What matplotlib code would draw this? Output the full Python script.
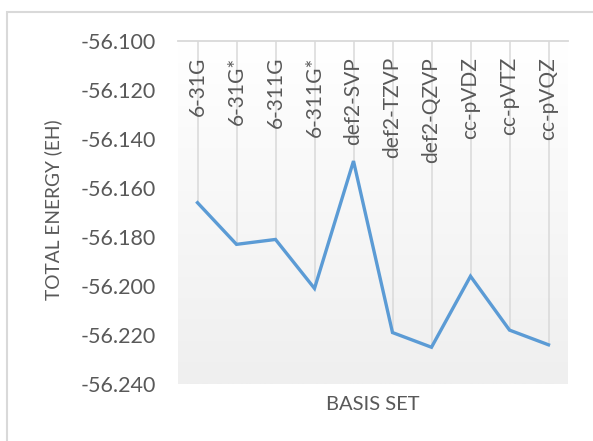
import numpy as np
import matplotlib
matplotlib.use("Agg")
import matplotlib.pyplot as plt
from matplotlib.patches import Rectangle

plt.rcParams['font.family'] = ['Lato', 'DejaVu Sans']

basis_sets = ["6-31G", "6-31G*", "6-311G", "6-311G*", "def2-SVP",
              "def2-TZVP", "def2-QZVP", "cc-pVDZ", "cc-pVTZ", "cc-pVQZ"]
energies = [-56.166, -56.183, -56.181, -56.201, -56.149,
            -56.219, -56.225, -56.196, -56.218, -56.224]
y_ticks = [-56.100, -56.120, -56.140, -56.160, -56.180, -56.200, -56.220, -56.240]

W, H = 593, 441
text_color = "#595959"
grid_color = "#d9d9d9"

fig = plt.figure(figsize=(W / 100, H / 100), dpi=100)
ax = fig.add_axes([178 / W, (H - 384) / H, 390 / W, 343 / H])

x = np.arange(len(basis_sets))
ymin, ymax = -56.240, -56.100
ax.set_xlim(-0.5, len(basis_sets) - 0.5)
ax.set_ylim(ymin, ymax)

# soft vertical gradient in the plot area
grad = np.linspace(0, 1, 256).reshape(-1, 1)
top = np.array([1.0, 1.0, 1.0])
bot = np.array([0xef, 0xef, 0xef]) / 255
img = top + (bot - top) * grad[..., None]
ax.imshow(img, extent=[-0.5, len(basis_sets) - 0.5, ymin, ymax],
          aspect="auto", origin="upper", zorder=0)

# category axis sits at the top; drop lines run down to each point
ax.axhline(ymax, color=grid_color, lw=1.3, zorder=1, clip_on=False)
ax.vlines(x, energies, ymax, color=grid_color, lw=1.1, zorder=1)

ax.plot(x, energies, color="#5b9bd5", lw=2.4, solid_joinstyle="miter", zorder=3)

for xi, name in zip(x, basis_sets):
    ax.annotate(name, (xi, ymax), xytext=(0, -16), textcoords="offset pixels",
                rotation=90, ha="center", va="top", fontsize=15,
                color=text_color, zorder=4)

ax.set_xticks([])
ax.set_yticks(y_ticks)
ax.set_yticklabels([f"{v:.3f}" for v in y_ticks])
ax.tick_params(axis="y", length=0, pad=16, labelsize=15.5, labelcolor=text_color)
for s in ax.spines.values():
    s.set_visible(False)

fig.text(53 / W, 1 - 210 / H, "TOTAL ENERGY (EH)", rotation=90, ha="center",
         va="center", fontsize=13.8, color=text_color)
fig.text(373 / W, 1 - 404 / H, "BASIS SET", ha="center", va="center",
         fontsize=14.5, color=text_color)

# chart frame
fig.patches.append(Rectangle((7 / W, -0.1), 1.2, (H - 12) / H + 0.1,
                             transform=fig.transFigure, fill=False,
                             edgecolor=grid_color, lw=1.5))

fig.savefig("out.png", dpi=100)
